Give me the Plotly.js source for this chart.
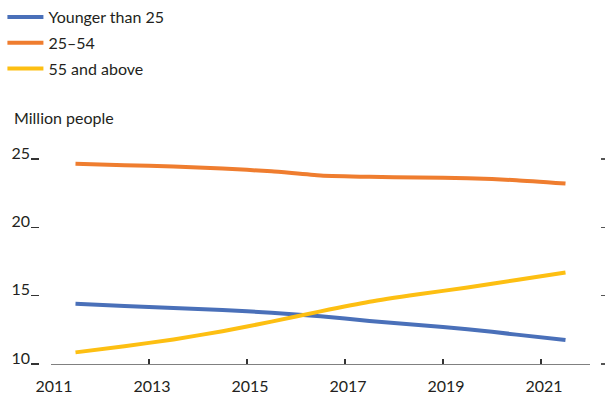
<!DOCTYPE html>
<html>
<head>
<meta charset="utf-8">
<script src="https://cdn.plot.ly/plotly-3.0.1.min.js"></script>
<style>html,body{margin:0;padding:0;background:#fff;}#chart{width:605px;height:397px;}</style>
</head>
<body>
<div id="chart"></div>
<script>
// Data (mid-year observations, million people)
var years = [2011.5, 2012.5, 2013.5, 2014.5, 2015.5, 2016.5, 2017.5, 2018.5, 2019.5, 2020.5, 2021.5];
var youngerThan25 = [14.4, 14.25, 14.1, 13.95, 13.75, 13.5, 13.15, 12.85, 12.55, 12.15, 11.75];
var age25to54 = [24.65, 24.55, 24.45, 24.3, 24.1, 23.8, 23.7, 23.65, 23.6, 23.45, 23.2];
var age55plus = [10.85, 11.3, 11.8, 12.4, 13.1, 13.85, 14.55, 15.1, 15.6, 16.15, 16.7];
var seriesNames = ["Younger than 25", "25\u201354", "55 and above"];
var xTicks = [2011, 2013, 2015, 2017, 2019, 2021];
var yTicks = [10, 15, 20, 25];

var FONT = "Lato, 'Noto Sans', sans-serif";
var FS = 16;
var TXT = "#231f20";
var colors = ["#4a70b9", "#ef7d2f", "#fdbf12"];
var seriesData = [youngerThan25, age25to54, age55plus];

var traces = seriesData.map(function (vals, i) {
  return {
    x: years, y: vals, type: "scatter", mode: "lines", name: seriesNames[i],
    line: {color: colors[i], width: 4, shape: "spline", smoothing: 0.5},
    legendgroup: "g" + i, hoverinfo: "skip"
  };
});
// empty traces so the extra tick/label axes are drawn
traces.push({x: [], y: [], yaxis: "y2", showlegend: false, type: "scatter", mode: "lines"});
traces.push({x: [], y: [], yaxis: "y3", showlegend: false, type: "scatter", mode: "lines"});

var W = 605, H = 397, ml = 39, mr = 5, mt = 140, mb = 33;
var pw = W - ml - mr, ph = H - mt - mb;
var pxPerUnit = 205 / 15;             // 10 → 25 spans 205 px
var yMin = 10, yMax = yMin + ph / pxPerUnit;
var labelLift = 6 / pxPerUnit;        // labels sit ~6px above their tick marks
var layout = {
  width: W, height: H,
  margin: {l: ml, r: mr, t: mt, b: mb, pad: 0, autoexpand: false},
  paper_bgcolor: "#fff", plot_bgcolor: "#fff",
  font: {family: FONT, size: FS, color: TXT},
  showlegend: true,
  legend: {
    xref: "container", yref: "container", x: 0.004, y: 1.002, xanchor: "left", yanchor: "top",
    itemwidth: 36,
    font: {family: FONT, size: FS, color: TXT}, tracegroupgap: 2, bgcolor: "rgba(0,0,0,0)"
  },
  xaxis: {
    domain: [12 / pw, 551 / pw], range: [2011, 2022],
    tickvals: xTicks, ticktext: xTicks.map(String),
    ticks: "inside", ticklen: 5, tickwidth: 1.2, tickcolor: "#333",
    showline: true, linecolor: "#808080", linewidth: 1.2,
    showgrid: false, zeroline: false, ticklabelshift: 3, ticklabelstandoff: 8,
    tickfont: {family: FONT, size: FS, color: TXT}
  },
  yaxis: {
    range: [yMin, yMax], anchor: "free", position: 0,
    tickvals: yTicks, showticklabels: false,
    ticks: "outside", ticklen: 8, tickwidth: 1.2, tickcolor: "#333",
    showline: false, showgrid: false, zeroline: false
  },
  yaxis2: {
    range: [yMin, yMax], overlaying: "y", side: "right", anchor: "free", position: 1,
    tickvals: yTicks, ticks: "outside", ticklen: 5, tickwidth: 1.2, tickcolor: "#555",
    showticklabels: false, showline: false, showgrid: false, zeroline: false
  },
  yaxis3: {
    range: [yMin - labelLift, yMax - labelLift], overlaying: "y", side: "left", anchor: "free", position: 0,
    tickvals: yTicks, ticktext: yTicks.map(String), ticks: "", ticklabelstandoff: 9,
    showline: false, showgrid: false, zeroline: false,
    tickfont: {family: FONT, size: FS, color: TXT}
  },
  annotations: [{
    text: "Million people", xref: "paper", yref: "paper",
    x: (13 - ml) / pw, y: (H - mb - 118) / ph,
    xanchor: "left", yanchor: "middle", showarrow: false, xshift: -1, yshift: 0,
    font: {family: FONT, size: FS, color: TXT}
  }]
};

Plotly.newPlot("chart", traces, layout, {staticPlot: true, displayModeBar: false});
</script>
</body>
</html>
